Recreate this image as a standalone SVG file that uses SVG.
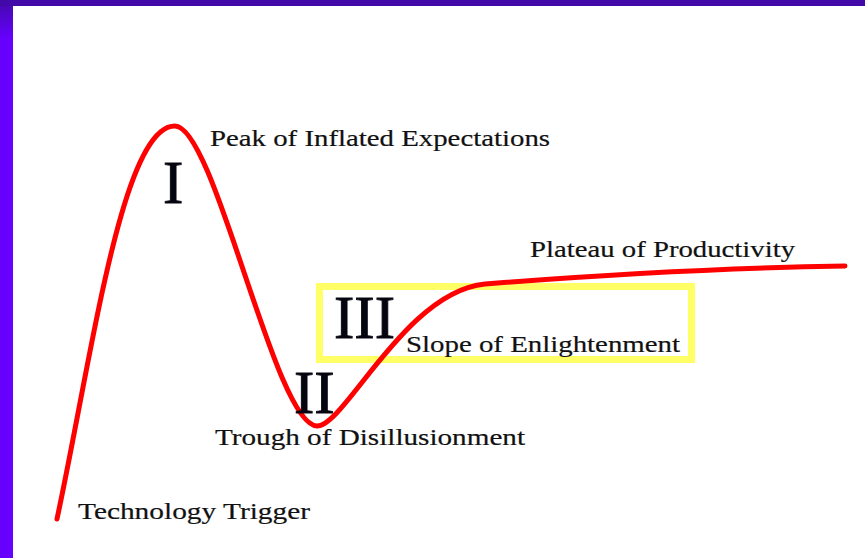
<svg xmlns="http://www.w3.org/2000/svg" width="865" height="558" viewBox="0 0 865 558">
  <defs>
    <linearGradient id="leftGrad" x1="0" y1="0" x2="0" y2="1">
      <stop offset="0" stop-color="#4409aa"/>
      <stop offset="0.07" stop-color="#6600ff"/>
      <stop offset="1" stop-color="#6600ff"/>
    </linearGradient>
  </defs>
  <style>
    .lbl { font-family: "Liberation Serif", "Times New Roman", serif; font-size: 24px; fill: #111; stroke: #111; stroke-width: 0.2; }
    .num { font-family: "Liberation Serif", "Times New Roman", serif; font-size: 61px; fill: #050510; stroke: #050510; stroke-width: 0.9; }
    .curve { fill: none; stroke: #ff0000; stroke-width: 5; stroke-linecap: round; stroke-linejoin: round; }
  </style>
  <rect x="0" y="0" width="865" height="558" fill="#ffffff"/>
  <rect x="0" y="0" width="13" height="558" fill="url(#leftGrad)"/>
  <rect x="0" y="0" width="865" height="6" fill="#4209a8"/>

  <g id="highlight-box">
    <rect x="319.5" y="286.5" width="372" height="73" fill="none" stroke="#ffff66" stroke-width="7"/>
  </g>

  <g id="connectors">
    <path class="curve" d="M57,519 C92,355 122,126 175,126 C215,126 275,426 317,426 C345,426 405,292 485,284 C600,275 720,268 845,266"/>
  </g>

  <g id="phase-1">
    <text class="num" x="163" y="203">I</text>
    <text class="lbl" x="210" y="146" textLength="340" lengthAdjust="spacingAndGlyphs">Peak of Inflated Expectations</text>
  </g>
  <g id="phase-2">
    <text class="num" x="294" y="413">II</text>
    <text class="lbl" x="215" y="445" textLength="310" lengthAdjust="spacingAndGlyphs">Trough of Disillusionment</text>
  </g>
  <g id="phase-3">
    <text class="num" x="334" y="338">III</text>
    <text class="lbl" x="406" y="352" textLength="274" lengthAdjust="spacingAndGlyphs">Slope of Enlightenment</text>
  </g>
  <g id="plateau">
    <text class="lbl" x="530" y="257" textLength="265" lengthAdjust="spacingAndGlyphs">Plateau of Productivity</text>
  </g>
  <g id="trigger">
    <text class="lbl" x="78" y="519" textLength="232" lengthAdjust="spacingAndGlyphs">Technology Trigger</text>
  </g>
</svg>
